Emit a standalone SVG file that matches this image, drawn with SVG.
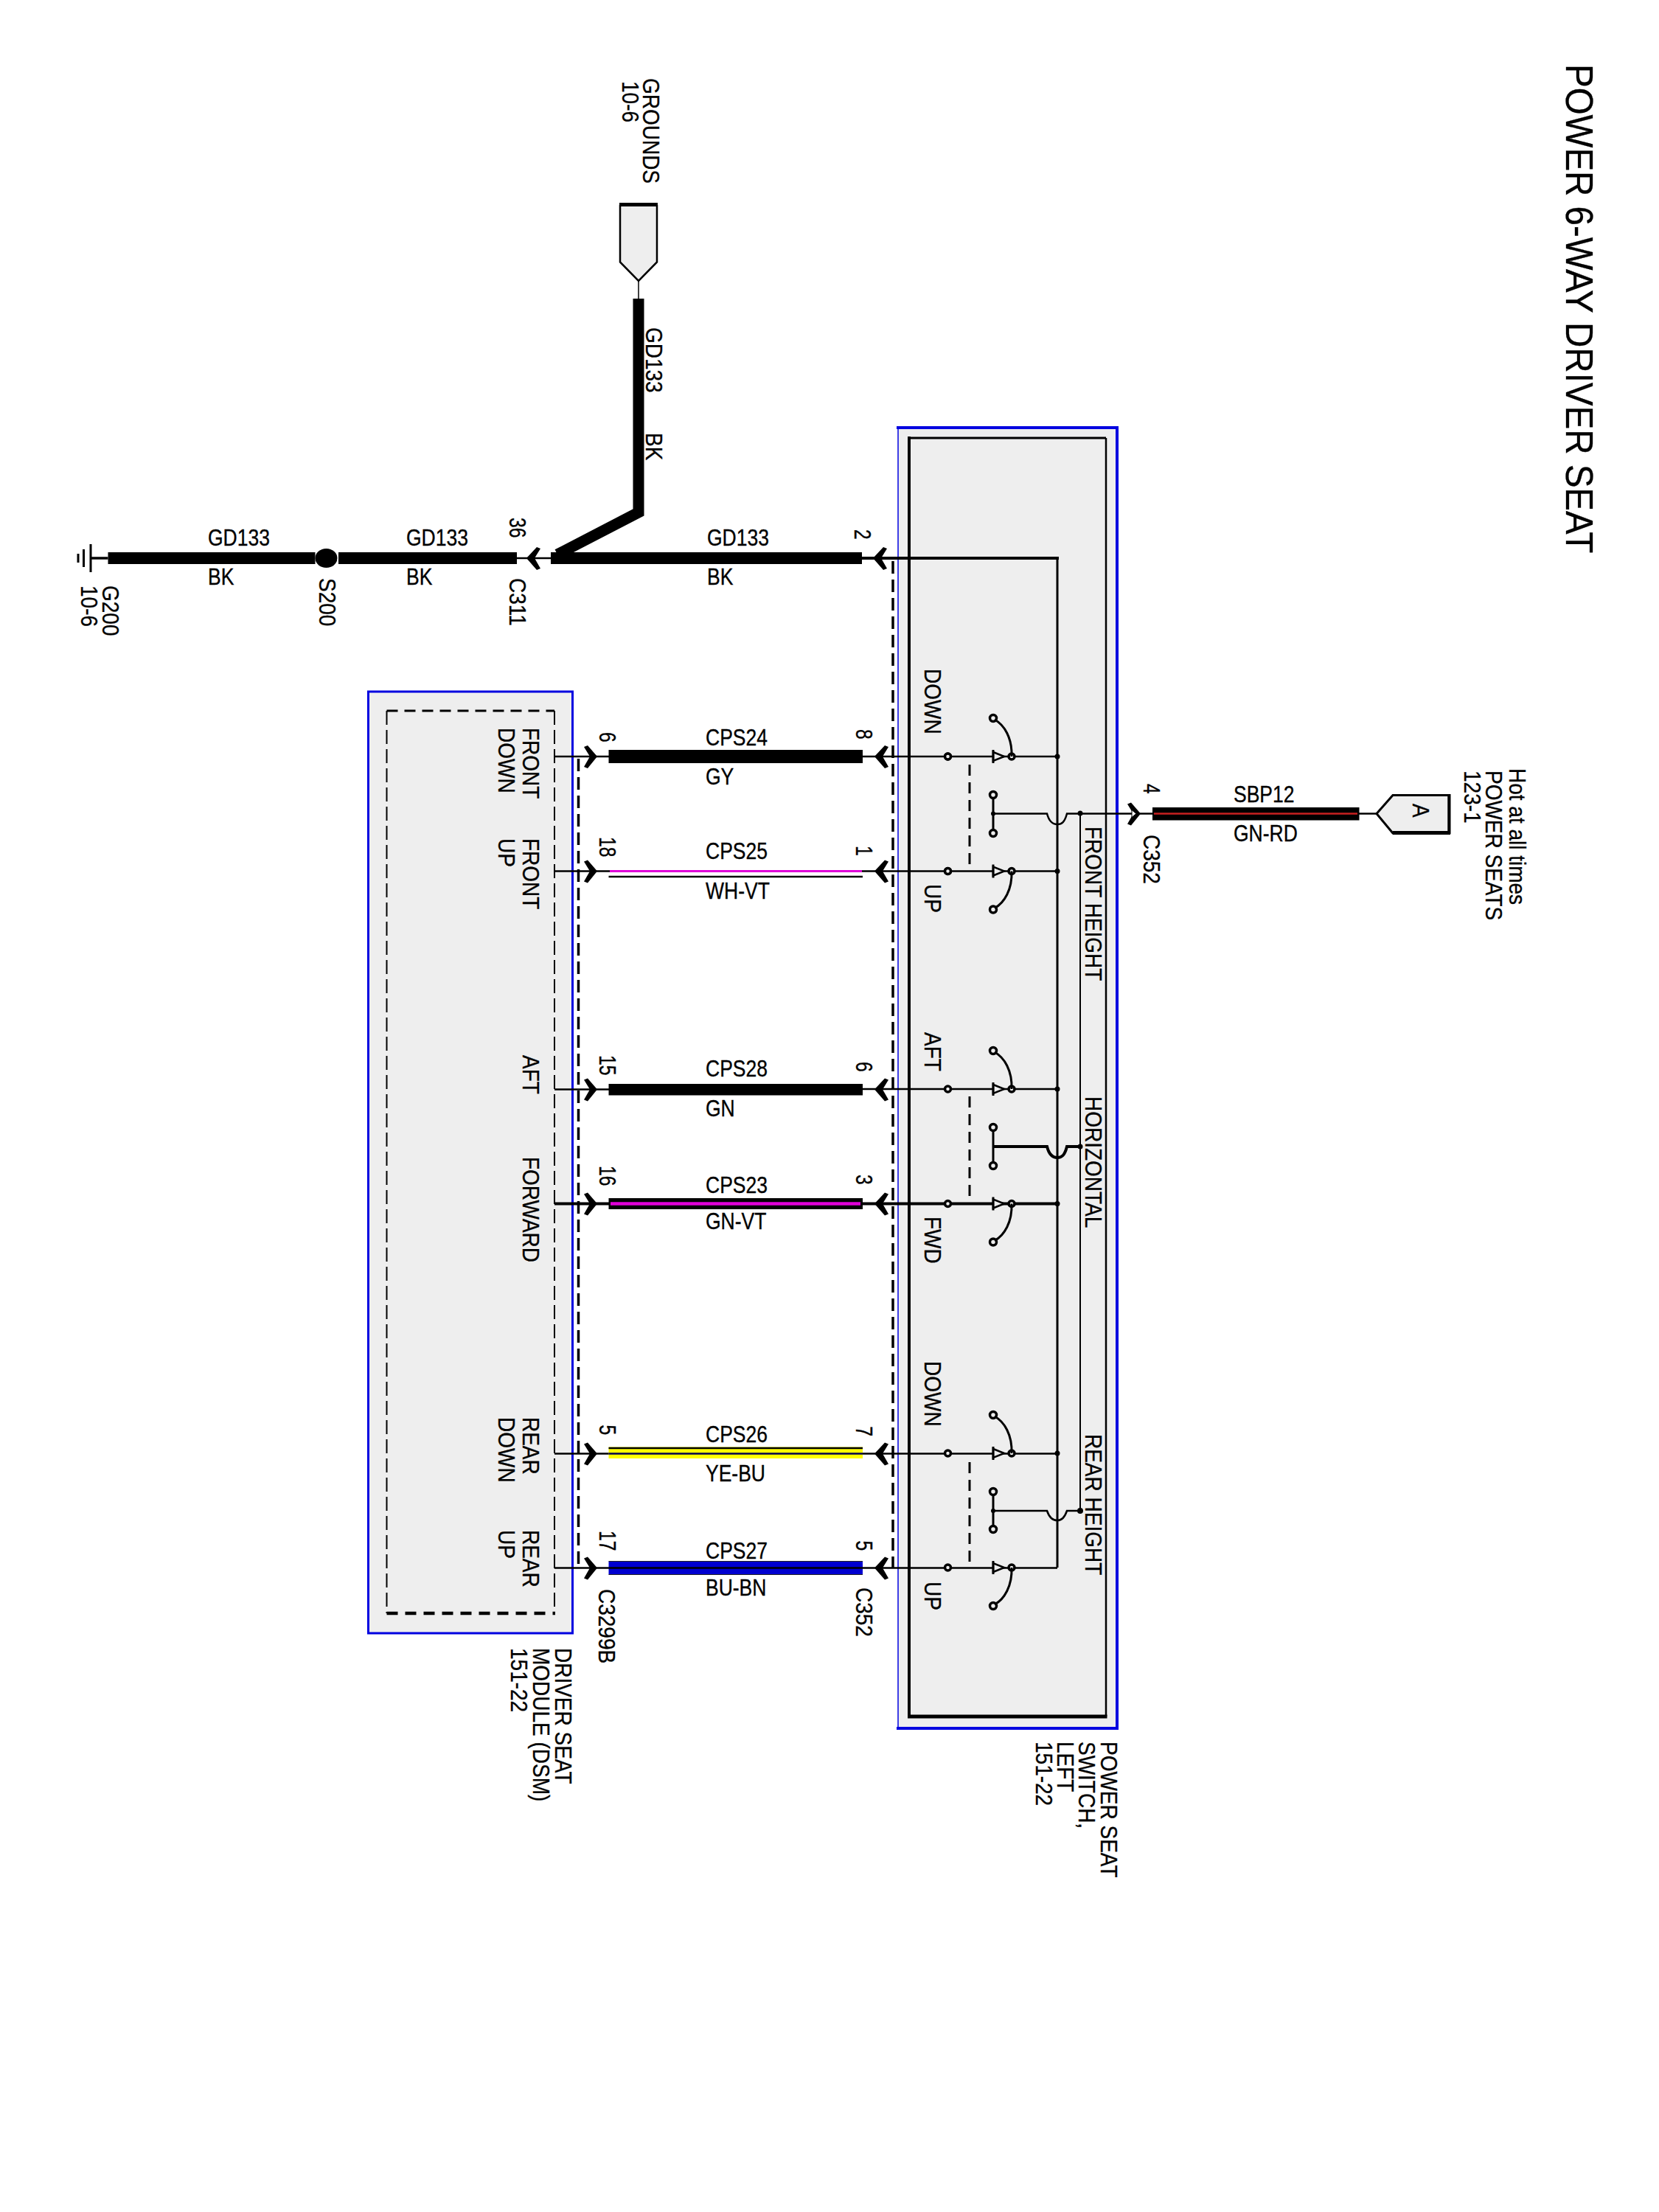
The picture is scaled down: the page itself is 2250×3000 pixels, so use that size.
<svg xmlns="http://www.w3.org/2000/svg" xmlns:xlink="http://www.w3.org/1999/xlink" width="2250" height="3000" viewBox="0 0 2250 3000">
<style>
text{font-family:"Liberation Sans",Arial,sans-serif;fill:#000;stroke:#000;stroke-width:.3}
.r{font-size:28px}
.p{font-size:24.6px}
.h{font-size:26.5px}
.ttl{font-size:47.5px}
.w{fill:none;stroke:#000;stroke-width:2.5}
.wb{fill:none;stroke:#000;stroke-width:4}
.th{fill:#000}
.bx{fill:#eee;stroke:none}
.bl{fill:none;stroke:#0000e0}
.dash{fill:none;stroke:#000;stroke-width:3.5;stroke-dasharray:17 8}
.lnk{fill:none;stroke:#000;stroke-width:3;stroke-dasharray:15 9}
.term{fill:#eee;stroke:#000;stroke-width:3.5}
.dot{fill:#000}
</style>
<defs>
<path id="chev-r" class="th" d="M0 0L-13 -15L-18 -13L-10 0L-18 14L-13 16Z"/>
<path id="chev-l" class="th" d="M0 0L14 -15L19 -13L11 0L19 14L14 16Z"/>
<g id="sw">
<path fill="#eee" stroke="#000" stroke-width="2.500" d="M0 -6L15 0L0 6Z"/>
<path fill="none" stroke="#000" stroke-width="3" d="M0 -9V9"/>
<circle class="term" cx="25" cy="0" r="4"/>
<circle class="term" cx="0" cy="-52" r="4.500"/>
<path fill="none" stroke="#000" stroke-width="3" d="M2 -50C15 -43 26 -25 25 0"/>
</g>
</defs>

<rect width="2250" height="3000" fill="#fff"/>

<g id="title">
<text class="ttl" transform="matrix(0 1 -1.09 0 2124 87)">POWER 6-WAY DRIVER SEAT</text>
</g>

<g id="node-power-seat-switch">
<rect class="bx" x="1218" y="580" width="297" height="1764"/>
<path class="bl" stroke-width="1.500" d="M1218 580V2344"/>
<path class="bl" stroke-width="4" d="M1216 580H1515V2344H1216"/>
<path fill="none" stroke="#000" stroke-width="2.500" d="M1500 594V2328"/>
<path fill="none" stroke="#000" stroke-width="3" d="M1233 594H1500"/>
<path fill="none" stroke="#000" stroke-width="4" d="M1233 592V2330"/>
<path fill="none" stroke="#000" stroke-width="5" d="M1231 2328H1501.500"/>
<path fill="none" stroke="#000" stroke-width="3" d="M1434 756V2126"/>
<path fill="none" stroke="#000" stroke-width="2" d="M1465 1103V2049"/>
<g>
<circle class="dot" cx="1434" cy="1026" r="3.500"/>
<circle class="dot" cx="1434" cy="1181.500" r="3.500"/>
<circle class="dot" cx="1434" cy="1477" r="3.500"/>
<circle class="dot" cx="1434" cy="1632.500" r="3.500"/>
<circle class="dot" cx="1434" cy="1971" r="3.500"/>
<circle class="dot" cx="1465" cy="1103" r="3.500"/>
<circle class="dot" cx="1465" cy="1555" r="3.500"/>
<circle class="dot" cx="1465" cy="2049" r="4"/>
</g>
<g id="sw-front">
<circle class="term" cx="1285.500" cy="1026" r="4"/>
<circle class="term" cx="1285.500" cy="1181.500" r="4"/>
<path class="w" d="M1233 1026H1434M1233 1181.500H1434"/>
<circle class="term" cx="1285.500" cy="1026" r="4"/>
<circle class="term" cx="1285.500" cy="1181.500" r="4"/>
<use xlink:href="#sw" href="#sw" transform="translate(1347 1026)"/>
<use xlink:href="#sw" href="#sw" transform="translate(1347 1181.500) scale(1 -1)"/>
<path class="lnk" d="M1315 1037V1181"/>
<path fill="none" stroke="#000" stroke-width="3" d="M1347 1078V1130"/>
<circle class="term" cx="1347" cy="1078" r="4.500"/>
<circle class="term" cx="1347" cy="1130" r="4.500"/>
<circle class="dot" cx="1347" cy="1103.500" r="3"/>
</g>
<g id="sw-horizontal">
<path class="w" d="M1233 1477H1434"/>
<path class="wb" d="M1233 1632.500H1434"/>
<circle class="term" cx="1285.500" cy="1477" r="4"/>
<circle class="term" cx="1285.500" cy="1632.500" r="4"/>
<use xlink:href="#sw" href="#sw" transform="translate(1347 1477)"/>
<use xlink:href="#sw" href="#sw" transform="translate(1347 1632.500) scale(1 -1)"/>
<path class="lnk" d="M1315 1487V1632"/>
<path fill="none" stroke="#000" stroke-width="3" d="M1347 1529V1581"/>
<circle class="term" cx="1347" cy="1529" r="4.500"/>
<circle class="term" cx="1347" cy="1581" r="4.500"/>
</g>
<g id="sw-rear">
<path class="w" d="M1233 1971.500H1434M1233 2126.500H1434"/>
<circle class="term" cx="1285.500" cy="1971" r="4"/>
<circle class="term" cx="1285.500" cy="2126" r="4"/>
<use xlink:href="#sw" href="#sw" transform="translate(1347 1971)"/>
<use xlink:href="#sw" href="#sw" transform="translate(1347 2126) scale(1 -1)"/>
<path class="lnk" d="M1315 1983V2126"/>
<path fill="none" stroke="#000" stroke-width="3" d="M1347 2023V2074"/>
<circle class="term" cx="1347" cy="2023" r="4.500"/>
<circle class="term" cx="1347" cy="2074" r="4.500"/>
<circle class="dot" cx="1347" cy="2049" r="3"/>
</g>
<text class="r" transform="matrix(0 1 -1.15 0 1254 907)">DOWN</text>
<text class="r" transform="matrix(0 1 -1.15 0 1254 1199)">UP</text>
<text class="r" transform="matrix(0 1 -1.15 0 1254 1400)">AFT</text>
<text class="r" transform="matrix(0 1 -1.15 0 1254 1650)">FWD</text>
<text class="r" transform="matrix(0 1 -1.15 0 1254 1846)">DOWN</text>
<text class="r" transform="matrix(0 1 -1.15 0 1254 2145)">UP</text>
<text class="r" transform="matrix(0 1 -1.15 0 1472 1121)">FRONT HEIGHT</text>
<text class="r" transform="matrix(0 1 -1.15 0 1472 1487)">HORIZONTAL</text>
<text class="r" transform="matrix(0 1 -1.15 0 1472 1945)">REAR HEIGHT</text>
<text class="r" transform="matrix(0 1 -1.15 0 1493 2362)">POWER SEAT</text>
<text class="r" transform="matrix(0 1 -1.15 0 1463 2362)">SWITCH,</text>
<text class="r" transform="matrix(0 1 -1.15 0 1434 2362)">LEFT</text>
<text class="r" transform="matrix(0 1 -1.15 0 1405 2362)">151-22</text>
</g>

<g id="node-driver-seat-module">
<rect class="bx" x="499.500" y="938" width="277" height="1277"/>
<rect class="bl" stroke-width="3" x="499.500" y="938" width="277" height="1277"/>
<path fill="none" stroke="#000" stroke-width="3" stroke-dasharray="15 9" d="M524.500 964H752"/>
<path fill="none" stroke="#000" stroke-width="2" stroke-dasharray="19 7" d="M524.500 964V2188"/>
<path fill="none" stroke="#000" stroke-width="2" stroke-dasharray="19 7" d="M752 964V2188"/>
<path fill="none" stroke="#000" stroke-width="4.500" stroke-dasharray="15 10" d="M524.500 2188H753"/>
<text class="r" transform="matrix(0 1 -1.15 0 708.500 987)">FRONT</text>
<text class="r" transform="matrix(0 1 -1.15 0 676 987)">DOWN</text>
<text class="r" transform="matrix(0 1 -1.15 0 708.500 1137)">FRONT</text>
<text class="r" transform="matrix(0 1 -1.15 0 676 1137)">UP</text>
<text class="r" transform="matrix(0 1 -1.15 0 708.500 1431)">AFT</text>
<text class="r" transform="matrix(0 1 -1.15 0 708.500 1569)">FORWARD</text>
<text class="r" transform="matrix(0 1 -1.15 0 708.500 1922)">REAR</text>
<text class="r" transform="matrix(0 1 -1.15 0 676 1922)">DOWN</text>
<text class="r" transform="matrix(0 1 -1.15 0 708.500 2075)">REAR</text>
<text class="r" transform="matrix(0 1 -1.15 0 676 2075)">UP</text>
<text class="r" transform="matrix(0 1 -1.15 0 753 2235)">DRIVER SEAT</text>
<text class="r" transform="matrix(0 1 -1.15 0 723 2235)">MODULE (DSM)</text>
<text class="r" transform="matrix(0 1 -1.15 0 693 2235)">151-22</text>
</g>

<g id="node-grounds">
<path fill="#eee" stroke="#000" stroke-width="2.500" d="M841 278V355.500L866 381L891 355.500V278"/>
<rect x="840" y="275" width="52" height="5" fill="#000"/>
<text class="r" transform="matrix(0 1 -1.15 0 872 106)">GROUNDS</text>
<text class="r" transform="matrix(0 1 -1.15 0 844 110)">10-6</text>
</g>

<g id="node-power-a">
<path fill="#eee" stroke="#000" stroke-width="3" d="M1867 1103.500L1889 1078.500H1965V1130H1889Z"/>
<path fill="none" stroke="#000" stroke-width="5" d="M1889 1129.500H1967"/>
<path fill="none" stroke="#000" stroke-width="4" d="M1965.500 1077V1131"/>
<text class="r" transform="matrix(0 1 -1.15 0 1916 1090)">A</text>
<text class="r" transform="matrix(0 1 -1.15 0 2047 1042)">Hot at all times</text>
<text class="r" transform="matrix(0 1 -1.15 0 2015 1045)">POWER SEATS</text>
<text class="r" transform="matrix(0 1 -1.15 0 1986 1045)">123-1</text>
</g>

<g id="node-g200">
<path fill="none" stroke="#000" stroke-width="3" d="M123 738V776M113.500 745V769M106 751V763"/>
<text class="r" transform="matrix(0 1 -1.15 0 139 794)">G200</text>
<text class="r" transform="matrix(0 1 -1.15 0 110 794)">10-6</text>
</g>

<g id="node-s200">
<ellipse class="dot" cx="442.500" cy="757" rx="15" ry="13"/>
<text class="r" transform="matrix(0 1 -1.15 0 433 784)">S200</text>
</g>

<g id="connectors">
<path fill="none" stroke="#000" stroke-width="1.500" d="M866 381V405"/>
<path fill="none" stroke="#000" stroke-width="15" stroke-linejoin="miter" d="M866 405V695L756 752"/>
<path fill="none" stroke="#000" stroke-width="3.500" d="M123 757H146.500"/>
<rect class="th" x="146.500" y="749" width="281" height="16"/>
<rect class="th" x="459" y="749" width="242" height="16"/>
<rect class="th" x="747" y="749" width="422" height="16"/>
<path class="w" d="M701 757H747"/>
<path class="wb" d="M1169 757H1436"/>
<use xlink:href="#chev-l" href="#chev-l" x="714" y="757"/>
<use xlink:href="#chev-l" href="#chev-l" x="1184" y="757"/>

<path class="dash" d="M1211 761V2126"/>
<path class="dash" d="M784.500 1029V2126"/>

<g id="wire-cps24">
<path class="w" d="M752 1026H826M1169 1026H1233"/>
<rect class="th" x="825.500" y="1017" width="344.500" height="18"/>
<use xlink:href="#chev-r" href="#chev-r" x="810" y="1026"/>
<use xlink:href="#chev-l" href="#chev-l" x="1186" y="1026"/>
</g>
<g id="wire-cps25">
<path class="w" d="M752 1181.500H828M1168 1181.500H1233"/>
<path fill="none" stroke="#e000d8" stroke-width="3" d="M827 1181.500H1169"/>
<path fill="none" stroke="#000" stroke-width="2.500" d="M825.500 1189H1170"/>
<use xlink:href="#chev-r" href="#chev-r" x="810" y="1181.500"/>
<use xlink:href="#chev-l" href="#chev-l" x="1186" y="1181.500"/>
</g>
<g id="wire-cps28">
<path class="w" d="M752 1477.500H826M1169 1477H1233"/>
<rect class="th" x="825.500" y="1470" width="344.500" height="15.500"/>
<use xlink:href="#chev-r" href="#chev-r" x="810" y="1477.500"/>
<use xlink:href="#chev-l" href="#chev-l" x="1186" y="1477.500"/>
</g>
<g id="wire-cps23">
<path class="wb" d="M752 1632.500H826M1169 1632.500H1233"/>
<rect class="th" x="825.500" y="1625" width="344.500" height="15"/>
<path fill="none" stroke="#e000d8" stroke-width="4.700" d="M828 1632.500H1167"/>
<use xlink:href="#chev-r" href="#chev-r" x="810" y="1632.500"/>
<use xlink:href="#chev-l" href="#chev-l" x="1186" y="1632.500"/>
</g>
<g id="wire-cps26">
<path class="w" d="M752 1971.500H826M1169 1971.500H1233"/>
<rect x="825.500" y="1962.500" width="344.500" height="15.500" fill="#ffff00"/>
<path fill="none" stroke="#000" stroke-width="2.500" d="M825.500 1964H1170"/>
<path fill="none" stroke="#000050" stroke-width="2.500" d="M825.500 1971.500H1170"/>
<use xlink:href="#chev-r" href="#chev-r" x="810" y="1971.500"/>
<use xlink:href="#chev-l" href="#chev-l" x="1186" y="1971.500"/>
</g>
<g id="wire-cps27">
<path class="w" d="M752 2126.500H826M1169 2126.500H1233"/>
<rect x="825.500" y="2117.500" width="344.500" height="18" fill="#0000d0"/>
<path fill="none" stroke="#000" stroke-width="2.500" d="M825.500 2126.500H1170"/>
<path fill="none" stroke="#222" stroke-width="1" d="M825.500 2117.500H1170M825.500 2135.500H1170"/>
<use xlink:href="#chev-r" href="#chev-r" x="810" y="2126.500"/>
<use xlink:href="#chev-l" href="#chev-l" x="1186" y="2126.500"/>
</g>
<g id="wire-sbp12">
<path class="w" d="M1347 1103.500H1420C1423 1115 1428 1118 1434 1118C1440 1118 1444 1115 1447 1103.500H1563"/>
<use xlink:href="#chev-r" href="#chev-r" x="1547" y="1103.500"/>
<path fill="#fff" stroke="#000" stroke-width="1" d="M1535 1098.500L1541 1103.500L1535 1108.500Z"/>
<rect class="th" x="1563" y="1095" width="280.500" height="17.500"/>
<path fill="none" stroke="#c82020" stroke-width="2.500" d="M1565 1103.500H1841"/>
<path class="w" d="M1843 1103.500H1867"/>
</g>
<path class="wb" d="M1347 1555H1420C1423 1567 1428 1570 1434 1570C1440 1570 1444 1567 1447 1555H1465"/>
<path class="w" d="M1347 2049H1420C1423 2058 1428 2062 1434 2062C1440 2062 1444 2058 1447 2049H1465"/>
</g>

<g id="labels">
<text class="h" transform="matrix(1 0 0 1.21 282 740)">GD133</text>
<text class="h" transform="matrix(1 0 0 1.21 282 793)">BK</text>
<text class="h" transform="matrix(1 0 0 1.21 551 740)">GD133</text>
<text class="h" transform="matrix(1 0 0 1.21 551 793)">BK</text>
<text class="h" transform="matrix(1 0 0 1.21 959 740)">GD133</text>
<text class="h" transform="matrix(1 0 0 1.21 959 793)">BK</text>
<text class="r" transform="matrix(0 1 -1.15 0 876 444)">GD133</text>
<text class="r" transform="matrix(0 1 -1.15 0 876 587)">BK</text>
<text class="p" transform="matrix(0 1 -1.25 0 691 702)">36</text>
<text class="r" transform="matrix(0 1 -1.15 0 691 784)">C311</text>
<text class="p" transform="matrix(0 1 -1.25 0 1159 718)">2</text>

<text class="h" transform="matrix(1 0 0 1.21 957 1011)">CPS24</text>
<text class="h" transform="matrix(1 0 0 1.21 957 1063.500)">GY</text>
<text class="h" transform="matrix(1 0 0 1.21 957 1165)">CPS25</text>
<text class="h" transform="matrix(1 0 0 1.21 957 1219)">WH-VT</text>
<text class="h" transform="matrix(1 0 0 1.21 957 1460)">CPS28</text>
<text class="h" transform="matrix(1 0 0 1.21 957 1514)">GN</text>
<text class="h" transform="matrix(1 0 0 1.21 957 1618)">CPS23</text>
<text class="h" transform="matrix(1 0 0 1.21 957 1667)">GN-VT</text>
<text class="h" transform="matrix(1 0 0 1.21 957 1955.500)">CPS26</text>
<text class="h" transform="matrix(1 0 0 1.21 957 2008.500)">YE-BU</text>
<text class="h" transform="matrix(1 0 0 1.21 957 2113.500)">CPS27</text>
<text class="h" transform="matrix(1 0 0 1.21 957 2163.500)">BU-BN</text>
<text class="h" transform="matrix(1 0 0 1.21 1673 1087.500)">SBP12</text>
<text class="h" transform="matrix(1 0 0 1.21 1673 1140.500)">GN-RD</text>

<text class="p" transform="matrix(0 1 -1.25 0 813 993)">6</text>
<text class="p" transform="matrix(0 1 -1.25 0 813 1135)">18</text>
<text class="p" transform="matrix(0 1 -1.25 0 813 1431)">15</text>
<text class="p" transform="matrix(0 1 -1.25 0 813 1581)">16</text>
<text class="p" transform="matrix(0 1 -1.25 0 813 1932.500)">5</text>
<text class="p" transform="matrix(0 1 -1.25 0 813 2076)">17</text>
<text class="p" transform="matrix(0 1 -1.25 0 1161 989)">8</text>
<text class="p" transform="matrix(0 1 -1.25 0 1161 1147)">1</text>
<text class="p" transform="matrix(0 1 -1.25 0 1161 1440)">6</text>
<text class="p" transform="matrix(0 1 -1.25 0 1161 1593)">3</text>
<text class="p" transform="matrix(0 1 -1.25 0 1161 1934.500)">7</text>
<text class="p" transform="matrix(0 1 -1.25 0 1161 2089.500)">5</text>
<text class="p" transform="matrix(0 1 -1.25 0 1551 1063)">4</text>
<text class="r" transform="matrix(0 1 -1.15 0 812 2155)">C3299B</text>
<text class="r" transform="matrix(0 1 -1.15 0 1161 2153)">C352</text>
<text class="r" transform="matrix(0 1 -1.15 0 1551 1132)">C352</text>
</g>
</svg>
